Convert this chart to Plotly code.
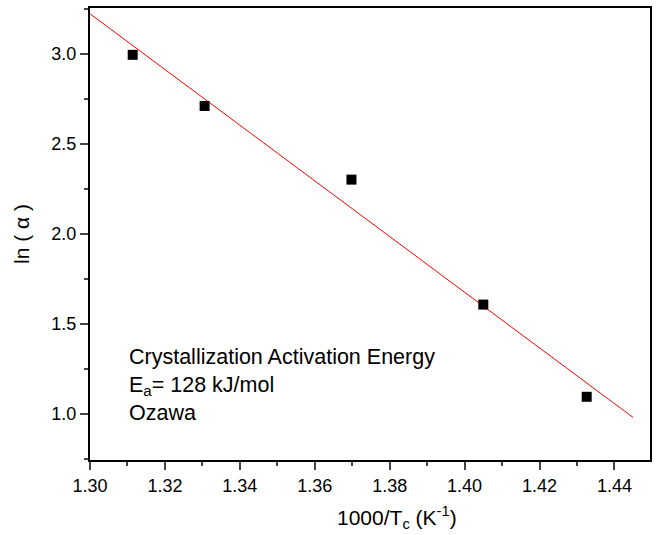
import numpy as np
import plotly.graph_objects as go

x_vals = [1.3114, 1.3306, 1.3698, 1.4050, 1.4326]
y_vals = [2.995, 2.711, 2.302, 1.608, 1.096]
fit_range = [1.30, 1.445]
x_ticks = [1.30, 1.32, 1.34, 1.36, 1.38, 1.40, 1.42, 1.44]
y_ticks = [1.0, 1.5, 2.0, 2.5, 3.0]
x_range = [1.30, 1.4495]
y_range = [0.745, 3.255]

slope, intercept = np.polyfit(x_vals, y_vals, 1)
fx = np.array(fit_range)
fy = slope * fx + intercept

fig = go.Figure()
fig.add_trace(go.Scatter(x=fx, y=fy, mode="lines", line=dict(color="#ff0000", width=1), showlegend=False))
fig.add_trace(go.Scatter(x=x_vals, y=y_vals, mode="markers",
                         marker=dict(symbol="square", size=10, color="black"), showlegend=False))

font = "Arial, Liberation Sans, sans-serif"
tickfont = dict(family=font, size=18, color="black")
fig.update_layout(
    width=656, height=535,
    margin=dict(l=90, r=4, t=8, b=75),
    paper_bgcolor="white", plot_bgcolor="white",
    font=dict(family=font, color="black", size=18),
    xaxis=dict(range=x_range, tickmode="array", tickvals=x_ticks,
               ticktext=[f"{v:.2f}" for v in x_ticks],
               ticks="outside", ticklen=8, tickwidth=1.5, showline=True, linewidth=2,
               linecolor="black", mirror=True, showgrid=False, zeroline=False,
               tickfont=tickfont,
               minor=dict(dtick=0.01, tick0=1.30, ticks="outside", ticklen=4, tickwidth=1.5, showgrid=False)),
    yaxis=dict(range=y_range, tickmode="array", tickvals=y_ticks,
               ticktext=[f"{v:.1f}" for v in y_ticks],
               ticks="outside", ticklen=8, tickwidth=1.5, showline=True, linewidth=2,
               linecolor="black", mirror=True, showgrid=False, zeroline=False,
               tickfont=tickfont,
               minor=dict(dtick=0.25, tick0=0.75, ticks="outside", ticklen=4, tickwidth=1.5, showgrid=False),
               title=dict(text="ln ( α )", font=dict(size=21, family=font), standoff=16)),
)
fig.add_annotation(x=0.066, y=0.259, xref="paper", yref="paper", xanchor="left", yanchor="top",
                   showarrow=False, align="left",
                   text="Crystallization Activation Energy<br>E<sub>a</sub>= 128 kJ/mol<br>Ozawa",
                   font=dict(size=21.5, family=font))
fig.add_annotation(x=0.548, y=-0.128, xref="paper", yref="paper", xanchor="center", yanchor="middle",
                   showarrow=False, text="1000/T<sub>c</sub> (K<sup>-1</sup>)",
                   font=dict(size=21, family=font))
fig.write_html("out.html")
